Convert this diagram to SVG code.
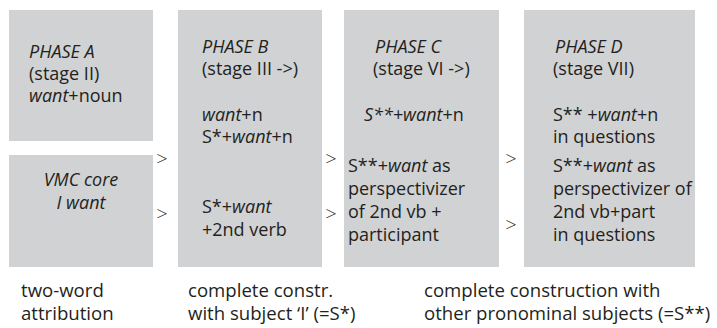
<svg xmlns="http://www.w3.org/2000/svg" width="717" height="328" viewBox="0 0 717 328">
  <style>
    .box { fill: #d1d2d4; }
    text { font-family: "Open Sans", "Noto Sans", sans-serif; font-size: 18px; fill: #231f20; }
    .it { font-style: italic; }
    .mid { text-anchor: middle; }
    .gt { font-size: 20px; font-weight: 300; }
    .cap { font-size: 18.6px; }
  </style>
  <rect width="717" height="328" fill="#ffffff"/>

  <g id="phase-a">
    <rect class="box" x="9" y="10" width="144" height="131"/>
    <text x="29" y="58" class="it">PHASE A</text>
    <text x="29" y="80">(stage II)</text>
    <text x="29" y="102"><tspan class="it">want</tspan>+noun</text>
  </g>

  <g id="vmc-core">
    <rect class="box" x="9" y="155" width="144" height="112"/>
    <text x="81" y="186" class="it mid">VMC core</text>
    <text x="81" y="209" class="it mid">I want</text>
  </g>

  <g id="phase-b">
    <rect class="box" x="178" y="10" width="144" height="257"/>
    <text x="202" y="53" class="it">PHASE B</text>
    <text x="202" y="75">(stage III -&gt;)</text>
    <text x="202" y="121"><tspan class="it">want</tspan>+n</text>
    <text x="202" y="143">S*+<tspan class="it">want</tspan>+n</text>
    <text x="202" y="213">S*+<tspan class="it">want</tspan></text>
    <text x="202" y="236">+2nd verb</text>
  </g>

  <g id="phase-c">
    <rect class="box" x="344" y="10" width="155" height="257"/>
    <text x="375" y="53" class="it">PHASE C</text>
    <text x="373" y="75">(stage VI -&gt;)</text>
    <text x="364" y="121" class="it">S**+want<tspan font-style="normal">+n</tspan></text>
    <text x="348" y="172">S**+<tspan class="it">want</tspan> as</text>
    <text x="348" y="195">perspectivizer</text>
    <text x="348" y="218">of 2nd vb +</text>
    <text x="348" y="241">participant</text>
  </g>

  <g id="phase-d">
    <rect class="box" x="524" y="10" width="171" height="257"/>
    <text x="555" y="53" class="it">PHASE D</text>
    <text x="553" y="75">(stage VII)</text>
    <text x="553" y="121">S** +<tspan class="it">want</tspan>+n</text>
    <text x="553" y="143">in questions</text>
    <text x="553" y="172">S**+<tspan class="it">want</tspan> as</text>
    <text x="553" y="195">perspectivizer of</text>
    <text x="553" y="218">2nd vb+part</text>
    <text x="553" y="241">in questions</text>
  </g>

  <g id="connectors">
    <text x="162" y="166" class="gt mid">&gt;</text>
    <text x="162" y="221" class="gt mid">&gt;</text>
    <text x="331" y="166" class="gt mid">&gt;</text>
    <text x="331" y="221" class="gt mid">&gt;</text>
    <text x="511" y="166" class="gt mid">&gt;</text>
    <text x="511" y="232" class="gt mid">&gt;</text>
  </g>

  <g id="captions">
    <text x="21" y="297" class="cap">two-word</text>
    <text x="21" y="320" class="cap">attribution</text>
    <text x="188" y="297" class="cap">complete constr.</text>
    <text x="188" y="320" class="cap">with subject ‘I’ (=S*)</text>
    <text x="424" y="297" class="cap">complete construction with</text>
    <text x="424" y="320" class="cap">other pronominal subjects (=S**)</text>
  </g>
</svg>
